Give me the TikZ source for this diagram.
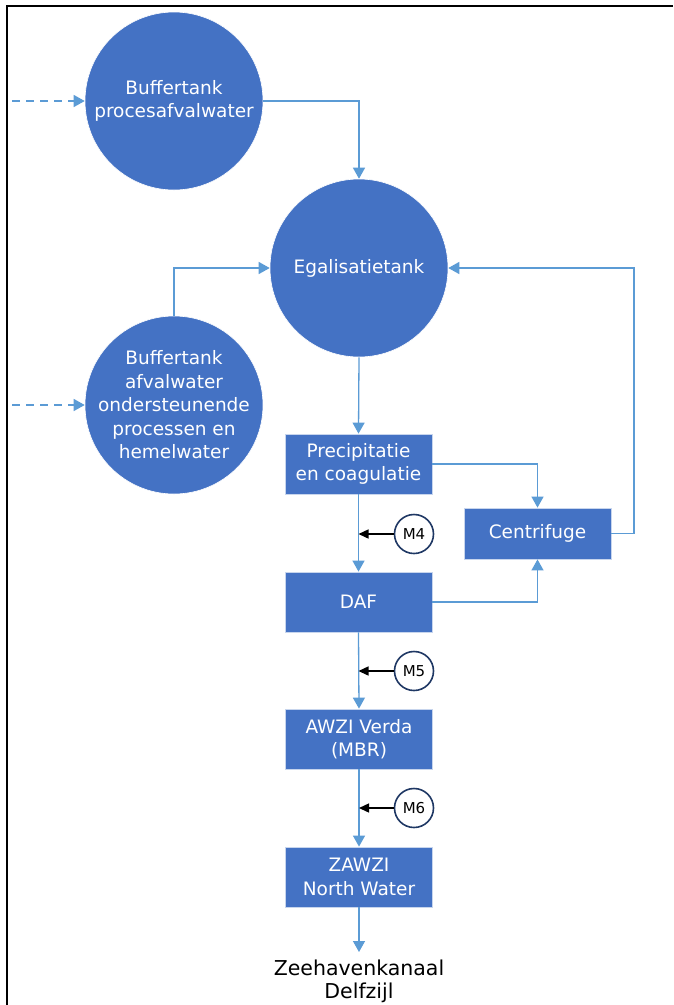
\documentclass[tikz,border=0pt]{standalone}
\usepackage{fontspec}
\setmainfont{DejaVu Sans}
\usetikzlibrary{arrows.meta}
\definecolor{tankblue}{HTML}{4472C4}
\definecolor{flowblue}{HTML}{5B9BD5}
\definecolor{navy}{HTML}{1F3864}
\tikzset{
  tank/.style={circle, fill=tankblue, draw=white, line width=0.6pt, minimum size=178pt, inner sep=-20pt, text=white, align=center, font=\fontsize{18.5}{23.5}\selectfont},
  proc/.style={rectangle, fill=tankblue, draw=white!70!tankblue, line width=0.8pt, minimum width=147pt, minimum height=60pt, inner sep=0pt, text=white, align=center, font=\fontsize{18.5}{23.5}\selectfont},
  meas/.style={circle, fill=white, draw=navy, line width=1.6pt, minimum size=39pt, inner sep=0pt, font=\fontsize{15}{17}\selectfont},
  flow/.style={draw=flowblue, line width=1.3pt, -{Triangle[length=11pt,width=12pt]}},
  feed/.style={flow, dash pattern=on 8pt off 6pt},
  probe/.style={draw=black, line width=1.4pt, -{Triangle[length=10pt,width=9pt]}},
}
\begin{document}
\begin{tikzpicture}[x=1pt,y=-1pt]
\useasboundingbox (0,0) rectangle (673,1005);
\fill[white] (0,0) rectangle (673,1005);
\draw[black, line width=2pt] (7,1005) -- (7,6) -- (673,6);

\node[tank] (c1) at (174,101) {Buffertank\\procesafvalwater};
\node[tank] (eg) at (359,268) {Egalisatietank};
\node[tank] (c3) at (174,405) {Buffertank\\afvalwater\\ondersteunende\\processen en\\hemelwater};

\node[proc] (prec) at (358.5,464) {Precipitatie\\en coagulatie};
\node[proc, minimum height=51pt] (cent) at (537.5,533.5) {Centrifuge};
\node[proc] (daf) at (358.5,602) {DAF};
\node[proc] (awzi) at (359,739) {AWZI Verda\\(MBR)};
\node[proc] (zawzi) at (359,877) {ZAWZI\\North Water};

\node[meas] (m4) at (414,534) {M4};
\node[meas] (m5) at (414,671) {M5};
\node[meas] (m6) at (414,808) {M6};

\node[anchor=north, align=center, inner xsep=0pt, inner ysep=8pt, font=\fontsize{20.5}{23}\selectfont] (zee) at (359,952) {Zeehavenkanaal\\Delfzijl};

\coordinate (d1) at (12,101);
\coordinate (d3) at (12,405);
\coordinate (cr) at (634,268);

\draw[feed] (d1) -- (c1.west);
\draw[feed] (d3) -- (c3.west);
\draw[flow] (c1.east) -| (eg.north);
\draw[flow] (c3.north) |- (eg.west);
\draw[flow] (cent.east) -| (cr) -- (eg.east);
\draw[flow] (eg.south) -- (prec.north);
\draw[flow] (prec.east) -| (cent.north);
\draw[flow] (daf.east) -| (cent.south);
\draw[flow] (prec.south) -- (daf.north);
\draw[flow] (daf.south) -- (awzi.north);
\draw[flow] (awzi.south) -- (zawzi.north);
\draw[flow] (zawzi.south) -- (zee.north);

\draw[probe] (m4.west) -- (m4.west -| prec.south);
\draw[probe] (m5.west) -- (m5.west -| daf.south);
\draw[probe] (m6.west) -- (m6.west -| awzi.south);
\end{tikzpicture}
\end{document}
